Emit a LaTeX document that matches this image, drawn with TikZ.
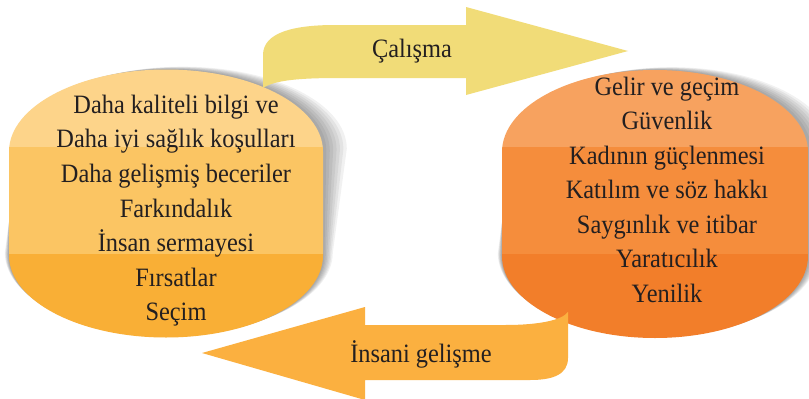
\documentclass[tikz,border=0pt]{standalone}
\usepackage{fontspec}
\newfontfamily\txtfont{Liberation Serif}
\definecolor{txt}{HTML}{231F20}
\definecolor{lA}{HTML}{FDD48A}
\definecolor{lB}{HTML}{FBC563}
\definecolor{lC}{HTML}{F9AF36}
\definecolor{rA}{HTML}{F7A25F}
\definecolor{rB}{HTML}{F58D3C}
\definecolor{rC}{HTML}{F27E2A}
\definecolor{arrY}{HTML}{F1DC78}
\definecolor{arrO}{HTML}{FBB040}
% blob outline: centre x, centre y, half width, half height
\newcommand\myblob[4]{(#1-#3,#2+#4-82) arc[start angle=180,end angle=0,x radius=#3,y radius=82] -- (#1+#3,#2-#4+82) arc[start angle=0,end angle=-180,x radius=#3,y radius=82] -- cycle}
\tikzset{
  lbl/.style={font=\txtfont\fontsize{26.5}{30}\selectfont, text=txt, anchor=base, inner sep=0pt, xscale=0.92, transform shape},
  halo/.style={fill=black, opacity=0.055},
}
\begin{document}
\begin{tikzpicture}[x=1pt,y=1pt]
\useasboundingbox (0,0) rectangle (809,-399);
\fill[white] (0,0) rectangle (809,-399);
% shadows
\foreach \k in {1,...,7}{
  \fill[halo] \myblob{166+0.4*\k}{-203.5-0.2*\k}{157+1.0*\k}{134+0.6*\k};
  \fill[halo] \myblob{655+0.4*\k}{-204-0.2*\k}{153+1.0*\k}{134+0.6*\k};
}
% left blob
\begin{scope}
  \clip \myblob{166}{-203.5}{157}{134};
  \fill[lA] (0,0) rectangle (340,-147);
  \fill[lB] (0,-147) rectangle (340,-253.5);
  \fill[lC] (0,-253.5) rectangle (340,-399);
\end{scope}
% right blob
\begin{scope}
  \clip \myblob{655}{-204}{153}{134};
  \fill[rA] (480,0) rectangle (809,-147);
  \fill[rB] (480,-147) rectangle (809,-253.5);
  \fill[rC] (480,-253.5) rectangle (809,-399);
\end{scope}
% top arrow
\fill[arrY] (263,-88) -- (263,-55) .. controls (263,-32) and (295,-25) .. (335,-25)
  -- (466,-25) -- (466,-7) -- (628,-51) -- (466,-95) -- (466,-78) -- (340,-78)
  .. controls (300,-78) and (275,-80) .. (263,-88) -- cycle;
% bottom arrow
\fill[arrO] (202,-353) -- (365,-307) -- (365,-325) -- (505,-325)
  .. controls (540,-325) and (562,-320) .. (568,-312) -- (568,-358)
  .. controls (568,-375) and (552,-380) .. (530,-380) -- (365,-380) -- (365,-400) -- cycle;
% labels
\node[lbl] (cal) at (412,-57) {Çalışma};
\node[lbl] (ins) at (421,-362) {İnsani gelişme};
% left texts
\node[lbl] (l1) at (176,-113) {Daha kaliteli bilgi ve};
\node[lbl] (l2) at (176,-147.5) {Daha iyi sağlık koşulları};
\node[lbl] (l3) at (176,-182) {Daha gelişmiş beceriler};
\node[lbl] (l4) at (176,-217) {Farkındalık};
\node[lbl] (l5) at (176,-251.5) {İnsan sermayesi};
\node[lbl] (l6) at (176,-286) {Fırsatlar};
\node[lbl] (l7) at (176,-320.5) {Seçim};
% right texts
\node[lbl] (r1) at (667,-95) {Gelir ve geçim};
\node[lbl] (r2) at (667,-129.5) {Güvenlik};
\node[lbl] (r3) at (667,-164) {Kadının güçlenmesi};
\node[lbl] (r4) at (667,-198.5) {Katılım ve söz hakkı};
\node[lbl] (r5) at (667,-233) {Saygınlık ve itibar};
\node[lbl] (r6) at (667,-267.5) {Yaratıcılık};
\node[lbl] (r7) at (667,-302) {Yenilik};
\end{tikzpicture}
\end{document}
